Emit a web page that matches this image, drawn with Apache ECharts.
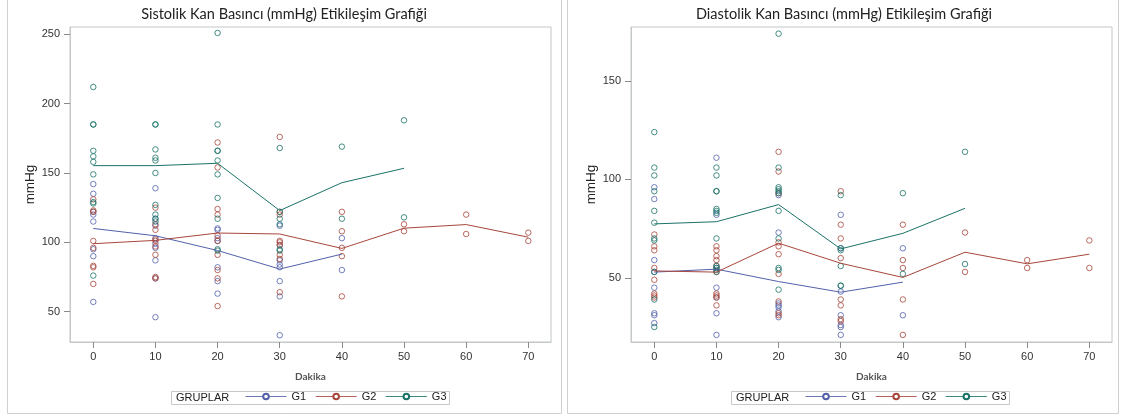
<!DOCTYPE html>
<html>
<head>
<meta charset="utf-8">
<script src="https://cdn.jsdelivr.net/npm/echarts@6/dist/echarts.min.js"></script>
<style>
  html, body { margin: 0; padding: 0; background: #fff; }
  #chart { width: 1122px; height: 416px; }
</style>
</head>
<body>
<div id="chart"></div>
<script>
// Measurement times (minutes)
const minutes = [0, 10, 20, 30, 40, 50, 60, 70];
const groupNames = ['G1', 'G2', 'G3'];
const xTicks = [0, 10, 20, 30, 40, 50, 60, 70];
const sisTicks = [50, 100, 150, 200, 250];
const diaTicks = [50, 100, 150];

// Systolic readings per minute (index into minutes)
const sisG1 = [
  [142, 135, 122, 120, 115, 95, 90, 57],
  [139, 117, 112, 103, 99, 96, 87, 74, 46],
  [110, 109, 103, 101, 82, 72, 63],
  [112, 98, 87, 84, 82, 72, 61, 33],
  [103, 80]
];
const sisG2 = [
  [131, 123, 122, 101, 96, 83, 82, 70],
  [125, 113, 109, 102, 101, 97, 91, 75, 74],
  [172, 154, 124, 120, 105, 101, 91, 80, 74, 54],
  [176, 122, 120, 101, 100, 98, 91, 88, 64],
  [122, 108, 96, 90, 61],
  [113, 108],
  [120, 106],
  [107, 101]
];
const sisG3 = [
  [212, 185, 185, 166, 162, 158, 149, 129, 128, 76],
  [185, 185, 167, 161, 159, 150, 127, 120, 117, 115],
  [251, 185, 166, 166, 159, 149, 132, 117, 95, 94],
  [168, 122, 117, 113, 95, 94],
  [169, 117],
  [188, 118]
];
// Systolic group means per minute
const sisMeanG1 = [110, 104.7, 94.1, 80.7, 91.5];
const sisMeanG2 = [99, 101.4, 106.7, 106, 95.6, 110.2, 112.8, 103.7];
const sisMeanG3 = [155.3, 155.3, 157, 122.9, 143, 153.4];

// Diastolic readings per minute
const diaG1 = [
  [96, 90, 59, 53, 45, 32, 31, 27],
  [111, 82, 55, 45, 40, 32, 21],
  [92, 73, 37, 36, 35, 33, 30],
  [82, 65, 43, 31, 26, 25, 21],
  [65, 31]
];
const diaG2 = [
  [72, 66, 64, 55, 49, 42, 41, 40],
  [66, 64, 61, 59, 56, 53, 42, 41, 40, 36],
  [114, 104, 93, 68, 66, 62, 52, 38, 32, 31],
  [94, 77, 70, 60, 39, 36, 29, 28],
  [77, 59, 55, 39, 21],
  [73, 53],
  [59, 55],
  [69, 55]
];
const diaG3 = [
  [124, 106, 102, 94, 84, 78, 70, 69, 53, 39, 25],
  [106, 102, 94, 94, 85, 84, 83, 70, 56, 55, 54, 53],
  [174, 106, 96, 95, 94, 93, 84, 70, 55, 54, 44],
  [92, 65, 64, 56, 46, 46],
  [93, 52],
  [114, 57]
];
// Diastolic group means per minute
const diaMeanG1 = [52.9, 54.4, 48.1, 42.7, 47.8];
const diaMeanG2 = [53.5, 52.9, 67.6, 57.4, 50.2, 63, 57.1, 62];
const diaMeanG3 = [77.4, 78.5, 87.2, 64.7, 72.6, 85.3];

const colors = ['#5360aa', '#a8463b', '#1a7268'];
const frameColor = '#c4c8c8';
const tickFont = 'Liberation Sans, Arial, sans-serif';
const titleFont = 'Lato, "Open Sans", sans-serif';

function points(groups) {
  const out = [];
  groups.forEach((vals, i) => vals.forEach(v => out.push([minutes[i], v])));
  return out;
}
function meanLine(means) {
  return means.map((v, i) => [minutes[i], v]);
}

function xAxisFor(gridIndex) {
  return {
    type: 'value', gridIndex, min: -3.75, max: 73.65,
    name: 'Dakika', nameLocation: 'middle', nameGap: 30,
    nameTextStyle: { fontFamily: titleFont, fontSize: 10, color: '#555', fontWeight: 'bold' },
    axisLine: { show: true, onZero: false, lineStyle: { color: frameColor } },
    axisTick: { show: true, length: 6, customValues: xTicks, lineStyle: { color: '#8a8a8a' } },
    axisLabel: { customValues: xTicks, margin: 9, fontFamily: tickFont, fontSize: 11, color: '#333' },
    splitLine: { show: false }
  };
}
function yAxisFor(gridIndex, min, max, ticks) {
  return {
    type: 'value', gridIndex, min, max,
    name: 'mmHg', nameLocation: 'middle', nameGap: 33,
    nameTextStyle: { fontFamily: tickFont, fontSize: 13.5, color: '#222' },
    axisLine: { show: true, onZero: false, lineStyle: { color: frameColor } },
    axisTick: { show: true, length: 6, customValues: ticks, lineStyle: { color: '#8a8a8a' } },
    axisLabel: { customValues: ticks, margin: 10, fontFamily: tickFont, fontSize: 11, color: '#333' },
    splitLine: { show: false }
  };
}

const series = [];
[[sisG1, sisG2, sisG3, [sisMeanG1, sisMeanG2, sisMeanG3]],
 [diaG1, diaG2, diaG3, [diaMeanG1, diaMeanG2, diaMeanG3]]].forEach((panel, p) => {
  for (let g = 0; g < 3; g++) {
    // mean profile line (listed first so the legend shows a line icon)
    series.push({
      type: 'line', name: groupNames[g], xAxisIndex: p, yAxisIndex: p,
      data: meanLine(panel[3][g]), showSymbol: false, symbol: 'emptyCircle', symbolSize: 6,
      lineStyle: { color: colors[g], width: 1 },
      itemStyle: { color: colors[g] },
      silent: true, z: 3
    });
  }
  for (let g = 0; g < 3; g++) {
    // individual readings as hollow circles
    series.push({
      type: 'scatter', name: groupNames[g], xAxisIndex: p, yAxisIndex: p,
      data: points(panel[g]), symbol: 'circle', symbolSize: 5.5,
      itemStyle: { color: 'rgba(255,255,255,0)', borderColor: colors[g], borderWidth: 1 },
      silent: true, z: 2
    });
  }
});

function legendFor(left) {
  return {
    left, top: 391, itemWidth: 41, itemHeight: 7, itemGap: 9,
    selectedMode: false,
    data: groupNames.map(n => ({ name: n })),
    lineStyle: { width: 1, opacity: 0.85 },
    itemStyle: { borderWidth: 1 },
    textStyle: { fontFamily: tickFont, fontSize: 11, color: '#222' },
    padding: 0
  };
}

const chart = echarts.init(document.getElementById('chart'));
chart.setOption({
  animation: false,
  backgroundColor: '#fff',
  grid: [
    { left: 70, top: 27, width: 481, height: 315, show: true, borderColor: frameColor, borderWidth: 1 },
    { left: 631, top: 27, width: 481, height: 315, show: true, borderColor: frameColor, borderWidth: 1 }
  ],
  xAxis: [xAxisFor(0), xAxisFor(1)],
  yAxis: [yAxisFor(0, 28.1, 255.3, sisTicks), yAxisFor(1, 17.4, 177.4, diaTicks)],
  legend: [legendFor(245), legendFor(805)],
  series,
  graphic: [
    { type: 'rect', shape: { x: 7.5, y: -2, width: 554, height: 415.5 }, style: { fill: 'none', stroke: '#d0d0d0', lineWidth: 1 }, silent: true },
    { type: 'rect', shape: { x: 567.5, y: -2, width: 551, height: 415.5 }, style: { fill: 'none', stroke: '#d0d0d0', lineWidth: 1 }, silent: true },
    { type: 'text', x: 284, y: 14, style: { text: 'Sistolik Kan Basıncı (mmHg) Etikileşim Grafiği', fontFamily: titleFont, fontSize: 14.5, fill: '#222', align: 'center', verticalAlign: 'middle' }, silent: true },
    { type: 'text', x: 844, y: 14, style: { text: 'Diastolik Kan Basıncı (mmHg) Etikileşim Grafiği', fontFamily: titleFont, fontSize: 14.5, fill: '#222', align: 'center', verticalAlign: 'middle' }, silent: true },
    { type: 'rect', shape: { x: 171.5, y: 391.5, width: 278, height: 13 }, style: { fill: 'none', stroke: '#c8c8c8', lineWidth: 1 }, silent: true },
    { type: 'rect', shape: { x: 731.5, y: 391.5, width: 278, height: 13 }, style: { fill: 'none', stroke: '#c8c8c8', lineWidth: 1 }, silent: true },
    { type: 'text', x: 176, y: 398, style: { text: 'GRUPLAR', fontFamily: tickFont, fontSize: 11, fill: '#222', verticalAlign: 'middle' }, silent: true },
    { type: 'text', x: 736, y: 398, style: { text: 'GRUPLAR', fontFamily: tickFont, fontSize: 11, fill: '#222', verticalAlign: 'middle' }, silent: true }
  ]
});
</script>
</body>
</html>
